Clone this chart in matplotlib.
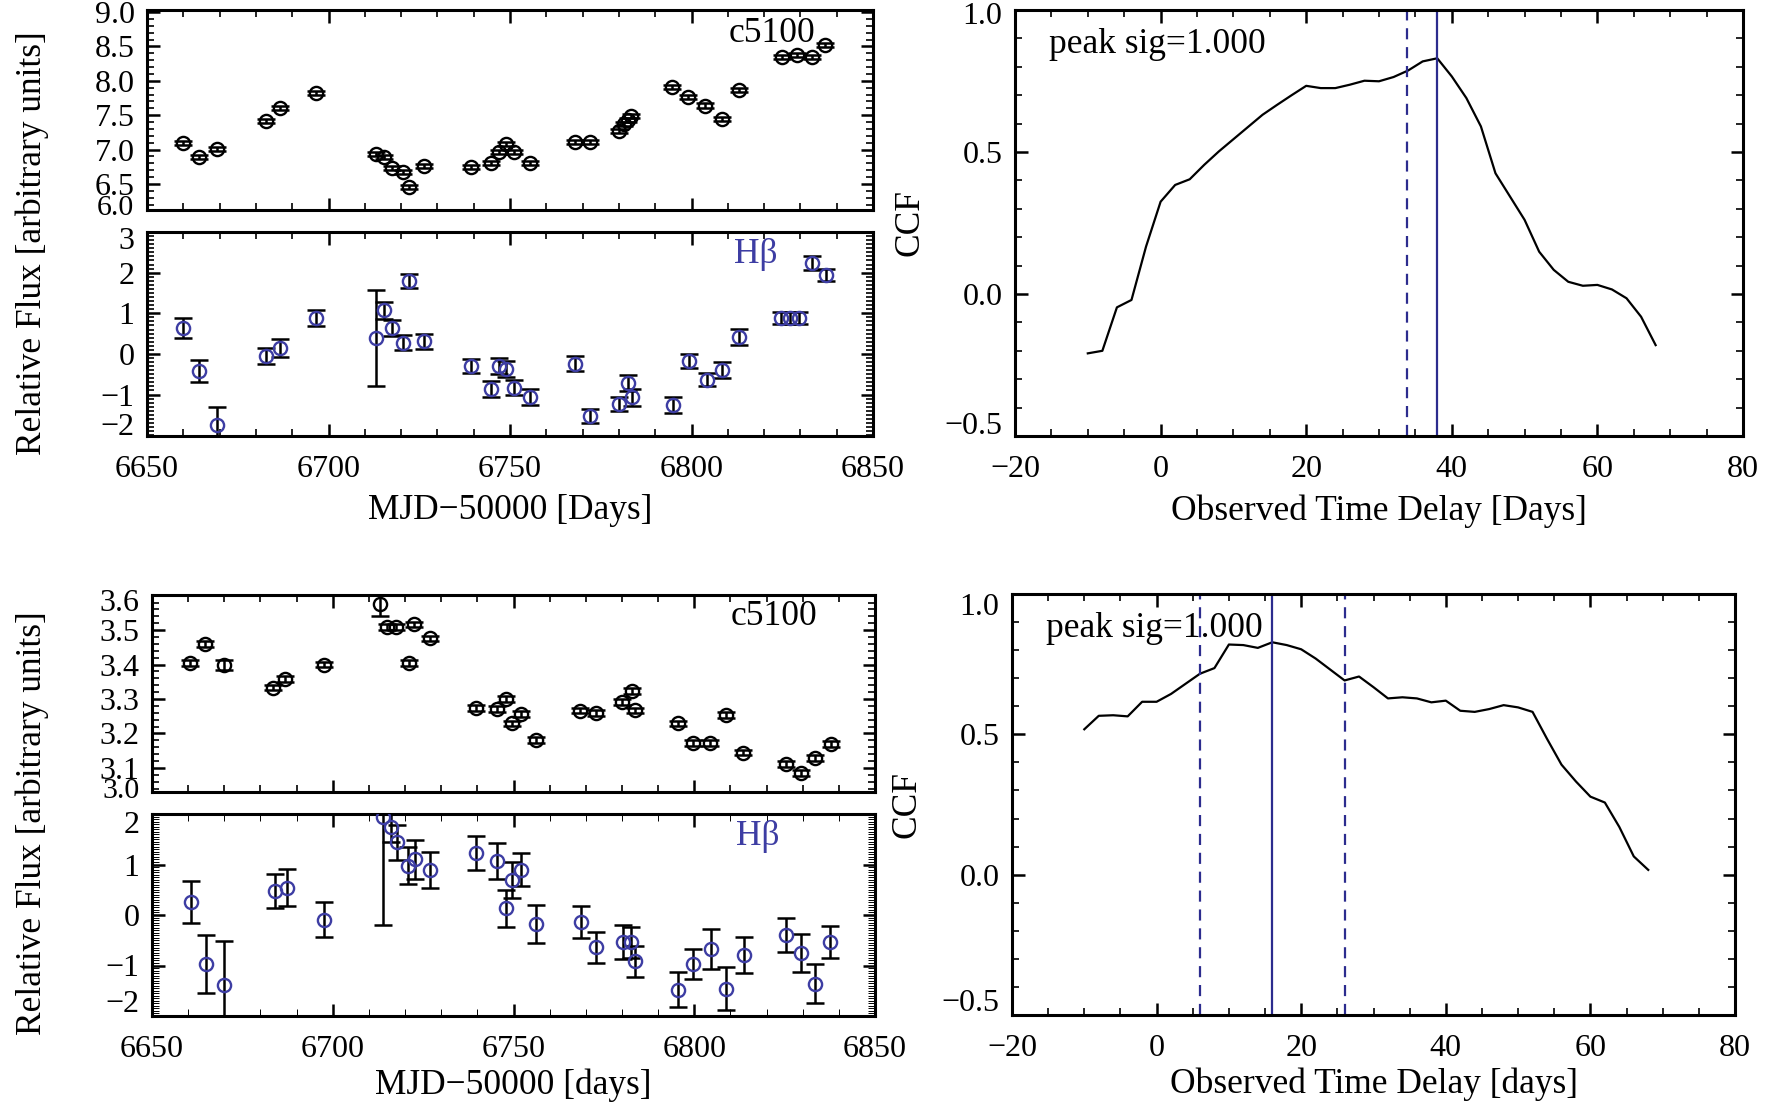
import numpy as np
import matplotlib
matplotlib.use("Agg")
import matplotlib.pyplot as plt
from matplotlib.ticker import MultipleLocator

plt.rcParams['font.family'] = ['Liberation Serif', 'DejaVu Serif']
plt.rcParams['axes.unicode_minus'] = True

# --- first object: continuum (c5100) light curve ---
cont1_t = [6660.0, 6664.4, 6669.4, 6682.9, 6686.7, 6696.6, 6713.2, 6715.3, 6717.5, 6720.4,
           6722.3, 6726.4, 6739.3, 6744.9, 6746.9, 6748.8, 6751.2, 6755.5, 6767.8, 6772.1,
           6780.0, 6781.5, 6782.4, 6783.3, 6794.7, 6799.0, 6803.8, 6808.4, 6813.2, 6825.0,
           6829.0, 6833.1, 6836.9]
cont1_f = [7.09, 6.89, 7.01, 7.41, 7.60, 7.82, 6.94, 6.89, 6.73, 6.67,
           6.46, 6.76, 6.75, 6.81, 6.97, 7.08, 6.97, 6.81, 7.11, 7.11,
           7.27, 7.37, 7.43, 7.49, 7.91, 7.76, 7.64, 7.44, 7.86, 8.34,
           8.38, 8.34, 8.52]
cont1_e = 0.03

# --- first object: Hbeta light curve ---
hb1_t = [6660.0, 6664.4, 6669.4, 6682.9, 6686.7, 6696.6, 6713.2, 6715.3, 6717.5, 6720.4,
         6722.3, 6726.4, 6739.3, 6744.9, 6746.9, 6748.8, 6751.2, 6755.5, 6767.8, 6772.1,
         6780.0, 6782.6, 6783.6, 6795.0, 6799.4, 6804.2, 6808.4, 6813.2, 6824.7, 6827.0,
         6829.5, 6833.1, 6837.0]
hb1_f = [0.63, -0.42, -1.76, -0.06, 0.15, 0.89, 0.39, 1.07, 0.63, 0.28,
         1.79, 0.31, -0.30, -0.87, -0.30, -0.38, -0.83, -1.06, -0.24, -1.52,
         -1.24, -0.71, -1.07, -1.26, -0.18, -0.63, -0.40, 0.41, 0.89, 0.89,
         0.89, 2.24, 1.94]
hb1_e = [0.25, 0.28, 0.45, 0.20, 0.22, 0.20, 1.18, 0.20, 0.20, 0.18,
         0.18, 0.18, 0.18, 0.20, 0.20, 0.20, 0.18, 0.20, 0.18, 0.17,
         0.17, 0.20, 0.20, 0.20, 0.17, 0.17, 0.20, 0.20, 0.15, 0.15,
         0.15, 0.17, 0.15]

# --- second object: continuum (c5100) ---
cont2_t = [6660.4, 6664.7, 6670.0, 6683.6, 6686.8, 6697.5, 6713.2, 6715.1, 6717.5, 6721.2,
           6722.5, 6726.8, 6739.6, 6745.5, 6747.9, 6749.7, 6752.0, 6756.1, 6768.4, 6772.9,
           6780.1, 6782.8, 6783.6, 6795.6, 6799.6, 6804.4, 6808.7, 6813.5, 6825.5, 6829.5,
           6833.5, 6837.7]
cont2_f = [3.405, 3.460, 3.398, 3.333, 3.358, 3.400, 3.577, 3.509, 3.509, 3.405,
           3.517, 3.476, 3.274, 3.271, 3.300, 3.229, 3.257, 3.181, 3.266, 3.259,
           3.291, 3.323, 3.267, 3.229, 3.172, 3.172, 3.254, 3.144, 3.111, 3.085,
           3.129, 3.169]
cont2_e = [0.008, 0.008, 0.015, 0.008, 0.008, 0.008, 0.035, 0.008, 0.008, 0.008,
           0.008, 0.008, 0.008, 0.008, 0.008, 0.008, 0.008, 0.008, 0.008, 0.008,
           0.008, 0.008, 0.008, 0.008, 0.008, 0.008, 0.008, 0.008, 0.008, 0.008,
           0.008, 0.008]

# --- second object: Hbeta ---
hb2_t = [6660.7, 6664.9, 6670.0, 6684.1, 6687.3, 6697.5, 6714.0, 6716.1, 6717.7, 6720.9,
         6722.8, 6726.8, 6739.6, 6745.5, 6747.9, 6749.7, 6752.0, 6756.1, 6768.7, 6772.9,
         6780.4, 6782.5, 6783.6, 6795.6, 6799.6, 6804.7, 6808.7, 6813.7, 6825.5, 6829.5,
         6833.5, 6837.5]
hb2_f = [0.26, -0.97, -1.38, 0.48, 0.54, -0.09, 1.95, 1.74, 1.44, 0.98,
         1.10, 0.89, 1.23, 1.07, 0.13, 0.69, 0.90, -0.18, -0.14, -0.64,
         -0.54, -0.54, -0.92, -1.48, -0.97, -0.67, -1.46, -0.79, -0.39, -0.75,
         -1.36, -0.54]
hb2_e = [0.42, 0.57, 0.86, 0.34, 0.37, 0.35, 2.15, 0.30, 0.35, 0.36,
         0.38, 0.35, 0.33, 0.35, 0.36, 0.35, 0.33, 0.38, 0.32, 0.31,
         0.34, 0.31, 0.31, 0.35, 0.30, 0.40, 0.43, 0.36, 0.34, 0.38,
         0.39, 0.32]

# --- cross-correlation functions ---
lags = np.arange(-10, 69, 2)
ccf1 = [-0.209, -0.200, -0.047, -0.021, 0.167, 0.325, 0.384, 0.404, 0.455, 0.502,
        0.545, 0.588, 0.631, 0.666, 0.700, 0.733, 0.725, 0.725, 0.737, 0.751,
        0.749, 0.764, 0.787, 0.819, 0.830, 0.766, 0.690, 0.590, 0.425, 0.343,
        0.261, 0.149, 0.085, 0.043, 0.029, 0.032, 0.016, -0.015, -0.080, -0.180]
ccf2 = [0.518, 0.566, 0.568, 0.564, 0.616, 0.616, 0.644, 0.680, 0.716, 0.736,
        0.820, 0.818, 0.808, 0.828, 0.818, 0.803, 0.770, 0.731, 0.692, 0.706,
        0.668, 0.628, 0.632, 0.628, 0.614, 0.620, 0.584, 0.580, 0.590, 0.604,
        0.596, 0.580, 0.484, 0.392, 0.332, 0.278, 0.257, 0.170, 0.065, 0.017]
lag1_cent, lag1_lo = 38.0, 33.9
lag2_cent, lag2_lo, lag2_hi = 16.0, 6.0, 26.0

BLUE = '#3d3da3'
LINE_BLUE = '#2c2c8e'
FS = 23      # tick labels
LFS = 25.5   # axis labels and annotations

W, H = 1773, 1105
fig = plt.figure(figsize=(W / 100, H / 100), dpi=100)


def box(x0, y0, x1, y1):
    # pixel box (top-left origin) -> figure axes
    return fig.add_axes([x0 / W, 1 - y1 / H, (x1 - x0) / W, (y1 - y0) / H])


def style(ax, minor_w=1.2):
    for s in ax.spines.values():
        s.set_linewidth(2.2)
    ax.tick_params(which='both', direction='in', top=True, right=True,
                   labelsize=FS, pad=9)
    ax.tick_params(axis='x', pad=14)
    ax.tick_params(which='major', length=9, width=1.8)
    ax.tick_params(which='minor', length=5, width=minor_w)


def edge_label(ax, y, text, dy, size=FS):
    # end labels that sit just inside the axis range
    ax.annotate(text, xy=(0, y), xycoords=('axes fraction', 'data'),
                xytext=(-9, dy), textcoords='offset points',
                ha='right', va='center', fontsize=size)


def lc_panel(ax, t, f, e, mcolor, minor_w=1.2):
    ax.errorbar(t, f, yerr=e, fmt='none', ecolor='black', elinewidth=1.8,
                capsize=6.5, capthick=1.8, zorder=2)
    ax.plot(t, f, 'o', mfc='none', mec=mcolor, ms=9.5, mew=1.7, zorder=3)
    ax.set_xlim(6650, 6850)
    ax.xaxis.set_major_locator(MultipleLocator(50))
    ax.xaxis.set_minor_locator(MultipleLocator(10))
    style(ax, minor_w)


def ccf_panel(ax, ccf, solid, dashed, label, top_dy, bot_dy, lpad):
    ax.plot(lags, ccf, color='black', lw=1.6)
    ax.axvline(solid, color=LINE_BLUE, lw=1.6)
    for d in dashed:
        ax.axvline(d, color=LINE_BLUE, lw=1.6, ls=(0, (5, 3.5)))
    ax.set_xlim(-20, 80)
    ax.set_ylim(-0.5, 1.0)
    ax.xaxis.set_major_locator(MultipleLocator(20))
    ax.xaxis.set_minor_locator(MultipleLocator(5))
    ax.set_yticks([0.0, 0.5])
    ax.set_yticklabels(['0.0', '0.5'])
    ax.yaxis.set_minor_locator(MultipleLocator(0.1))
    style(ax)
    edge_label(ax, 1.0, '1.0', top_dy)
    edge_label(ax, -0.5, '\u22120.5', bot_dy)
    ax.text(0.047, 0.918, 'peak sig=1.000', transform=ax.transAxes,
            fontsize=LFS, va='center', ha='left')
    ax.set_xlabel(label, fontsize=LFS, labelpad=lpad)
    ax.set_ylabel('CCF', fontsize=LFS, labelpad=26)


# ---------------- top row ----------------
ax1 = box(147, 10, 873, 210)
lc_panel(ax1, cont1_t, cont1_f, cont1_e, 'black')
ax1.set_ylim(6.12, 9.03)
ax1.set_yticks([6.5, 7.0, 7.5, 8.0, 8.5, 9.0])
ax1.yaxis.set_minor_locator(MultipleLocator(0.1))
ax1.tick_params(labelbottom=False)
edge_label(ax1, 6.12, '6.0', 1.5, FS - 1.5)
ax1.text(0.92, 0.88, 'c5100', transform=ax1.transAxes, fontsize=LFS,
         ha='right', va='center')

ax2 = box(147, 232, 873, 436)
lc_panel(ax2, hb1_t, hb1_f, hb1_e, BLUE)
ax2.set_ylim(-2.02, 3.0)
ax2.set_yticks([-1, 0, 1, 2])
ax2.set_yticklabels(['\u22121', '0', '1', '2'])
ax2.yaxis.set_minor_locator(MultipleLocator(0.1))
edge_label(ax2, 3.0, '3', -7)
edge_label(ax2, -2.02, '\u22122', 6)
ax2.text(0.868, 0.89, 'H\u03b2', transform=ax2.transAxes, fontsize=LFS,
         color=BLUE, ha='right', va='center')
ax2.set_xlabel('MJD\u221250000 [Days]', fontsize=LFS, labelpad=7)

fig.text(32 / W, 1 - 243 / H, 'Relative Flux [arbitrary units]', rotation=90,
         fontsize=LFS, ha='center', va='center')

ax3 = box(1015, 10, 1743, 436)
ccf_panel(ax3, ccf1, lag1_cent, [lag1_lo], 'Observed Time Delay [Days]', -5, 6.5, 7)

# ---------------- bottom row ----------------
ax4 = box(152, 595, 875, 792)
lc_panel(ax4, cont2_t, cont2_f, cont2_e, 'black')
ax4.set_ylim(3.03, 3.602)
ax4.set_yticks([3.1, 3.2, 3.3, 3.4, 3.5])
ax4.yaxis.set_minor_locator(MultipleLocator(0.02))
ax4.tick_params(labelbottom=False)
edge_label(ax4, 3.602, '3.6', -6)
edge_label(ax4, 3.03, '3.0', 0.5, FS - 1.5)
ax4.text(0.92, 0.89, 'c5100', transform=ax4.transAxes, fontsize=LFS,
         ha='right', va='center')

ax5 = box(152, 814, 875, 1016)
lc_panel(ax5, hb2_t, hb2_f, hb2_e, BLUE, minor_w=0.7)
ax5.set_ylim(-2.0, 2.0)
ax5.set_yticks([-1, 0, 1])
ax5.set_yticklabels(['\u22121', '0', '1'])
ax5.yaxis.set_minor_locator(MultipleLocator(0.05))
edge_label(ax5, 2.0, '2', -8)
edge_label(ax5, -2.0, '\u22122', 8)
ax5.text(0.868, 0.89, 'H\u03b2', transform=ax5.transAxes, fontsize=LFS,
         color=BLUE, ha='right', va='center')
ax5.set_xlabel('MJD\u221250000 [days]', fontsize=LFS, labelpad=3)

fig.text(32 / W, 1 - 823 / H, 'Relative Flux [arbitrary units]', rotation=90,
         fontsize=LFS, ha='center', va='center')

ax6 = box(1012, 594, 1735, 1015)
ccf_panel(ax6, ccf2, lag2_cent, [lag2_lo, lag2_hi], 'Observed Time Delay [days]', -10, 8.5, 3)

fig.savefig('out.png', dpi=100)
